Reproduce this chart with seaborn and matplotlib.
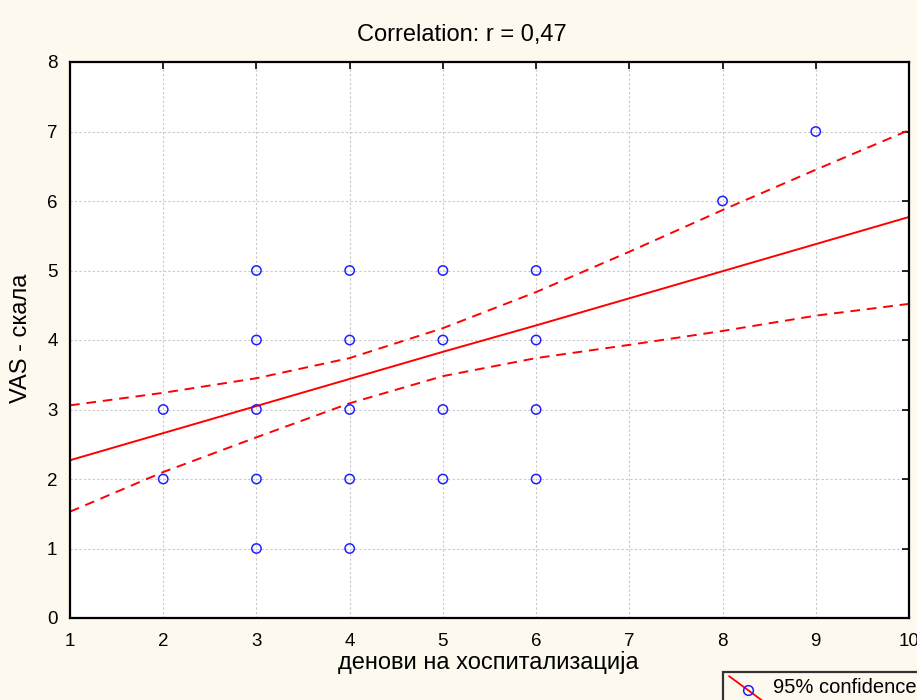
"""Correlation scatter: VAS - скала vs денови на хоспитализација (r = 0,47)."""
import matplotlib
matplotlib.use("Agg")
import matplotlib.pyplot as plt
from matplotlib.lines import Line2D
from matplotlib.legend_handler import HandlerLine2D
import pandas as pd
import seaborn as sns

BG = "#fdf9ef"
BLUE = "#2020ff"
RED = "#ff0000"

# observations (x = days in hospital, y = VAS score)
DAYS = [2, 2, 3, 3, 3, 3, 3, 4, 4, 4, 4, 4, 5, 5, 5, 5, 6, 6, 6, 6, 8, 9]
VAS = [3, 2, 5, 4, 3, 2, 1, 5, 4, 3, 2, 1, 5, 4, 3, 2, 5, 4, 3, 2, 6, 7]

# fitted line + 95% confidence band at x = 1..10
FIT_X = [1, 2, 3, 4, 5, 6, 7, 8, 9, 10]
FIT_Y = [2.27, 2.66, 3.05, 3.44, 3.83, 4.21, 4.60, 4.99, 5.38, 5.77]
CI_UP = [3.06, 3.24, 3.45, 3.74, 4.17, 4.69, 5.27, 5.87, 6.45, 7.02]
CI_LO = [1.53, 2.10, 2.60, 3.09, 3.48, 3.74, 3.93, 4.13, 4.35, 4.52]

sns.set_style("white")
plt.rcParams["font.family"] = ["Liberation Sans", "DejaVu Sans"]
plt.rcParams["text.color"] = "black"
plt.rcParams["xtick.color"] = "black"
plt.rcParams["ytick.color"] = "black"


class DiagHandler(HandlerLine2D):
    """Legend handle drawn as a falling diagonal with the marker in the middle."""

    def create_artists(self, legend, orig_handle, xdescent, ydescent,
                       width, height, fontsize, trans):
        x0, x1 = -xdescent, width - xdescent
        y0, y1 = height * 1.2 - ydescent, -height * 0.8 - ydescent
        ln = Line2D([x0, x1], [y0, y1], color=RED, lw=1.3, transform=trans)
        mk = Line2D([(x0 + x1) / 2], [(y0 + y1) / 2], ls="", marker="o",
                    ms=7, mfc="none", mec=BLUE, mew=1.1, transform=trans)
        return [ln, mk]


def main() -> None:
    pts = pd.DataFrame({"days": DAYS, "vas": VAS})
    fit = pd.DataFrame({"x": FIT_X, "fit": FIT_Y, "up": CI_UP, "lo": CI_LO})

    fig = plt.figure(figsize=(9.17, 7.0), dpi=100, facecolor=BG)
    ax = fig.add_axes([70 / 917, 82 / 700, 839 / 917, 556 / 700])
    ax.set_facecolor("white")

    sns.lineplot(data=fit, x="x", y="fit", color=RED, lw=1.4, ax=ax)
    for col in ("up", "lo"):
        sns.lineplot(data=fit, x="x", y=col, color=RED, lw=1.4, ax=ax,
                     dashes=False, linestyle=(0, (5, 3.5)))
    sns.scatterplot(data=pts, x="days", y="vas", ax=ax, s=45,
                    facecolors="none", edgecolor=BLUE, linewidth=1.1,
                    zorder=5, clip_on=False)

    ax.set_xlim(1, 10)
    ax.set_ylim(0, 8)
    ax.set_xticks(range(1, 11))
    ax.set_yticks(range(0, 9))
    ax.grid(True, color="#c8c8c8", ls=(0, (2, 2)), lw=0.8)
    ax.set_axisbelow(True)
    for sp in ax.spines.values():
        sp.set_color("black")
        sp.set_linewidth(1.6)
    ax.tick_params(direction="in", length=5, width=1.2, color="black",
                   labelcolor="black", top=True, right=True,
                   labelsize=13.5, pad=9)
    ax.tick_params(axis="x", pad=11)
    ax.set_xlabel("")
    ax.set_ylabel("")

    fig.text(462 / 917, 1 - 35 / 700, "Correlation: r = 0,47",
             ha="center", va="center", fontsize=17)
    fig.text(488 / 917, 1 - 662 / 700, "денови на хоспитализација",
             ha="center", va="center", fontsize=17)
    fig.text(21 / 917, 1 - 338 / 700, "VAS - скала", rotation=90,
             ha="center", va="center", fontsize=17)

    handle = Line2D([], [], color=RED, marker="o")
    leg = fig.legend([handle], ["95% confidence"], loc="upper left",
                     bbox_to_anchor=(723 / 917, 1 - 672 / 700),
                     frameon=True, fancybox=False, fontsize=14.5,
                     borderaxespad=0, borderpad=0.3, handlelength=1.9,
                     handletextpad=0.3,
                     handler_map={Line2D: DiagHandler()})
    leg.get_frame().set_edgecolor("black")
    leg.get_frame().set_linewidth(1.6)
    leg.get_frame().set_facecolor(BG)

    fig.savefig("out.png", dpi=100, facecolor=BG)
    plt.close(fig)


if __name__ == "__main__":
    main()
